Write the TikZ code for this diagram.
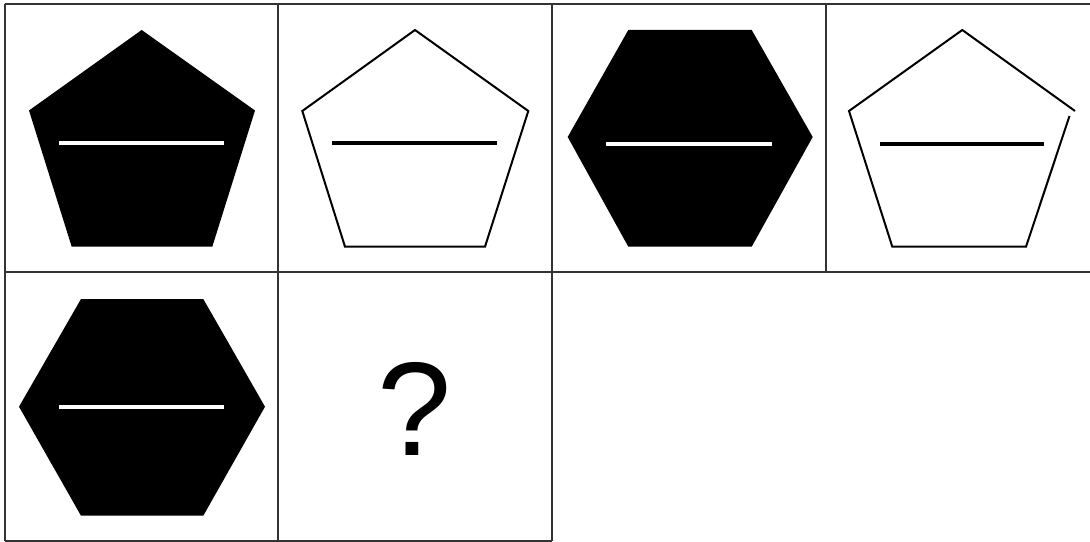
\documentclass[tikz,border=0pt]{standalone}
\usepackage{fontspec}
\setmainfont{Liberation Sans}
\begin{document}
\begin{tikzpicture}[x=0.75pt,y=-0.75pt,
  gridline/.style={draw=black!80,line width=1.5pt},
  solidshape/.style={fill=black,draw=none},
  hollowshape/.style={draw=black,line width=1.5pt,line join=miter,fill=white},
  whitebar/.style={draw=white,line width=3pt},
  blackbar/.style={draw=black,line width=3pt}]
\fill[white] (0,0) rectangle (1090,542);
\useasboundingbox (0,0) rectangle (1090,542);
% grid
\draw[gridline] (4.5,4.5) -- (1090,4.5);
\draw[gridline] (4.5,272) -- (1090,272);
\draw[gridline] (4.5,540.5) -- (552,540.5);
\draw[gridline] (4.5,4.5) -- (4.5,540.5);
\draw[gridline] (278,4.5) -- (278,540.5);
\draw[gridline] (552,4.5) -- (552,540.5);
\draw[gridline] (826,4.5) -- (826,272);
% cell 1: black pentagon
\fill[solidshape] (141.7,30) -- (255,110.5) -- (212.3,246.7) -- (71.7,246.7) -- (29,110.5) -- cycle;
\draw[whitebar] (59.3,143.3) -- (224,143.3);
% cell 2: white pentagon
\draw[hollowshape] (415,30) -- (528.3,111) -- (485,246.7) -- (345,246.7) -- (302.3,111) -- cycle;
\draw[blackbar] (332.3,143.3) -- (497.3,143.3);
% cell 3: black hexagon
\fill[solidshape] (628.3,30) -- (751.7,30) -- (812.7,137) -- (751.7,246.7) -- (628.3,246.7) -- (567.7,137) -- cycle;
\draw[whitebar] (605.7,144) -- (772.3,144);
% cell 4: white pentagon with a small break at right vertex
\draw[hollowshape,fill=none] (1069.5,116) -- (1026,246.7) -- (892.3,246.7) -- (849,111) -- (962.3,30) -- (1075,111);
\draw[blackbar] (880,143.7) -- (1044.3,143.7);
% cell 5: black hexagon
\fill[solidshape] (81,299) -- (203.3,299) -- (265,406.7) -- (203.3,515.7) -- (81,515.7) -- (19,406.7) -- cycle;
\draw[whitebar] (59.3,406.7) -- (224.3,406.7);
% cell 6: question mark
\node[inner sep=0pt,anchor=base,font=\fontsize{100}{100}\selectfont] (q) at (415,455) {?};
\end{tikzpicture}
\end{document}
